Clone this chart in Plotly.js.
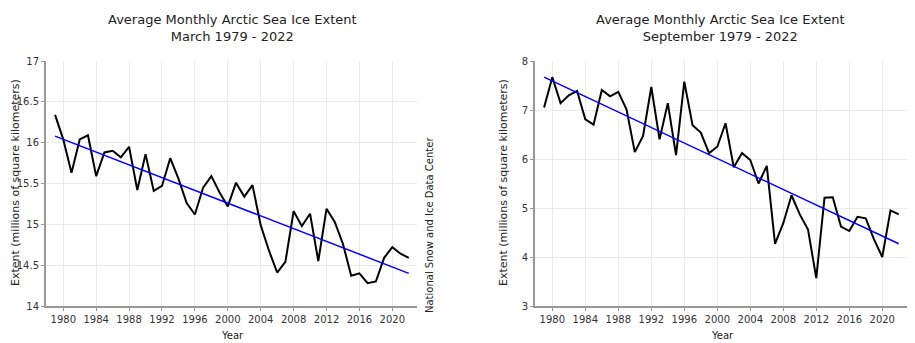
<!DOCTYPE html>
<html><head><meta charset="utf-8">
<script src="https://cdn.plot.ly/plotly-3.0.1.min.js"></script>
<style>html,body{margin:0;padding:0;background:#fff}#c{width:915px;height:343px}</style>
</head><body><div id="c"></div>
<script>
const years = [1979,1980,1981,1982,1983,1984,1985,1986,1987,1988,1989,1990,1991,1992,1993,1994,1995,1996,1997,1998,1999,2000,2001,2002,2003,2004,2005,2006,2007,2008,2009,2010,2011,2012,2013,2014,2015,2016,2017,2018,2019,2020,2021,2022];
const marchExtent = [16.34,16.04,15.63,16.04,16.09,15.59,15.88,15.90,15.82,15.95,15.42,15.86,15.41,15.47,15.81,15.56,15.26,15.12,15.45,15.59,15.39,15.22,15.51,15.34,15.48,14.99,14.68,14.41,14.54,15.16,14.98,15.13,14.55,15.19,15.03,14.76,14.37,14.40,14.28,14.30,14.59,14.72,14.64,14.59];
const septExtent = [7.05,7.67,7.14,7.30,7.39,6.81,6.70,7.41,7.28,7.37,7.01,6.14,6.47,7.47,6.40,7.14,6.08,7.58,6.69,6.54,6.12,6.25,6.73,5.83,6.12,5.98,5.50,5.86,4.27,4.69,5.26,4.87,4.56,3.57,5.21,5.22,4.62,4.53,4.82,4.79,4.36,4.00,4.95,4.87];
const trendYears = [1979, 2022];
const marchTrend = [16.08, 14.40];
const septTrend = [7.67, 4.27];
const tickYears = [1980,1984,1988,1992,1996,2000,2004,2008,2012,2016,2020];
const marchTicks = [14,14.5,15,15.5,16,16.5,17];
const septTicks = [3,4,5,6,7,8];

const W = 915, H = 343;
const px = v => v / W, py = v => 1 - v / H;
const font = "DejaVu Sans, sans-serif";

const traces = [
  {x: years, y: marchExtent, xaxis:'x', yaxis:'y', mode:'lines', line:{color:'#000', width:2}, hoverinfo:'skip'},
  {x: trendYears, y: marchTrend, xaxis:'x', yaxis:'y', mode:'lines', line:{color:'#0000ff', width:1.5}, hoverinfo:'skip'},
  {x: years, y: septExtent, xaxis:'x2', yaxis:'y2', mode:'lines', line:{color:'#000', width:2}, hoverinfo:'skip'},
  {x: trendYears, y: septTrend, xaxis:'x2', yaxis:'y2', mode:'lines', line:{color:'#0000ff', width:1.5}, hoverinfo:'skip'}
];

const xCommon = {range:[1977.9, 2023], tickvals: tickYears, ticktext: tickYears.map(String), showgrid:true, gridcolor:'#ebebeb', gridwidth:1, zeroline:false, showline:true, linecolor:'#999', linewidth:2, ticks:'outside', ticklen:3, tickcolor:'#999', tickfont:{family:font, size:10, color:'#333'}};
const yCommon = {showgrid:true, gridcolor:'#ebebeb', gridwidth:1, zeroline:false, showline:true, linecolor:'#999', linewidth:2, ticks:'outside', ticklen:3, tickcolor:'#999', tickfont:{family:font, size:10, color:'#333'}};

const layout = {
  width: W, height: H, showlegend:false,
  margin:{l:0,r:0,t:0,b:0},
  paper_bgcolor:'#fff', plot_bgcolor:'#fff',
  xaxis: Object.assign({}, xCommon, {domain:[px(46), px(417)], anchor:'y'}),
  yaxis: Object.assign({}, yCommon, {domain:[py(306), py(61)], range:[14,17], tickvals: marchTicks, ticktext: marchTicks.map(String), anchor:'x'}),
  xaxis2: Object.assign({}, xCommon, {domain:[px(535), px(907)], anchor:'y2'}),
  yaxis2: Object.assign({}, yCommon, {domain:[py(306), py(61)], range:[3,8], tickvals: septTicks, ticktext: septTicks.map(String), anchor:'x2'}),
  annotations: [
    {xref:'paper', yref:'paper', x:px(232), y:py(28), text:'Average Monthly Arctic Sea Ice Extent<br>March 1979 - 2022', showarrow:false, font:{family:font, size:13, color:'#222'}, xanchor:'center', yanchor:'middle'},
    {xref:'paper', yref:'paper', x:px(720), y:py(28), text:'Average Monthly Arctic Sea Ice Extent<br>September 1979 - 2022', showarrow:false, font:{family:font, size:13, color:'#222'}, xanchor:'center', yanchor:'middle'},
    {xref:'paper', yref:'paper', x:px(15), y:py(183), text:'Extent (millions of square kilometers)', textangle:-90, showarrow:false, font:{family:font, size:11, color:'#222'}, xanchor:'center', yanchor:'middle'},
    {xref:'paper', yref:'paper', x:px(503), y:py(183), text:'Extent (millions of square kilometers)', textangle:-90, showarrow:false, font:{family:font, size:11, color:'#222'}, xanchor:'center', yanchor:'middle'},
    {xref:'paper', yref:'paper', x:px(429), y:py(225), text:'National Snow and Ice Data Center', textangle:-90, showarrow:false, font:{family:font, size:10, color:'#222'}, xanchor:'center', yanchor:'middle'},
    {xref:'paper', yref:'paper', x:px(232), y:py(335), text:'Year', showarrow:false, font:{family:font, size:10, color:'#222'}, xanchor:'center', yanchor:'middle'},
    {xref:'paper', yref:'paper', x:px(722), y:py(335), text:'Year', showarrow:false, font:{family:font, size:10, color:'#222'}, xanchor:'center', yanchor:'middle'}
  ]
};
Plotly.newPlot('c', traces, layout, {staticPlot:true, displayModeBar:false});
</script></body></html>
